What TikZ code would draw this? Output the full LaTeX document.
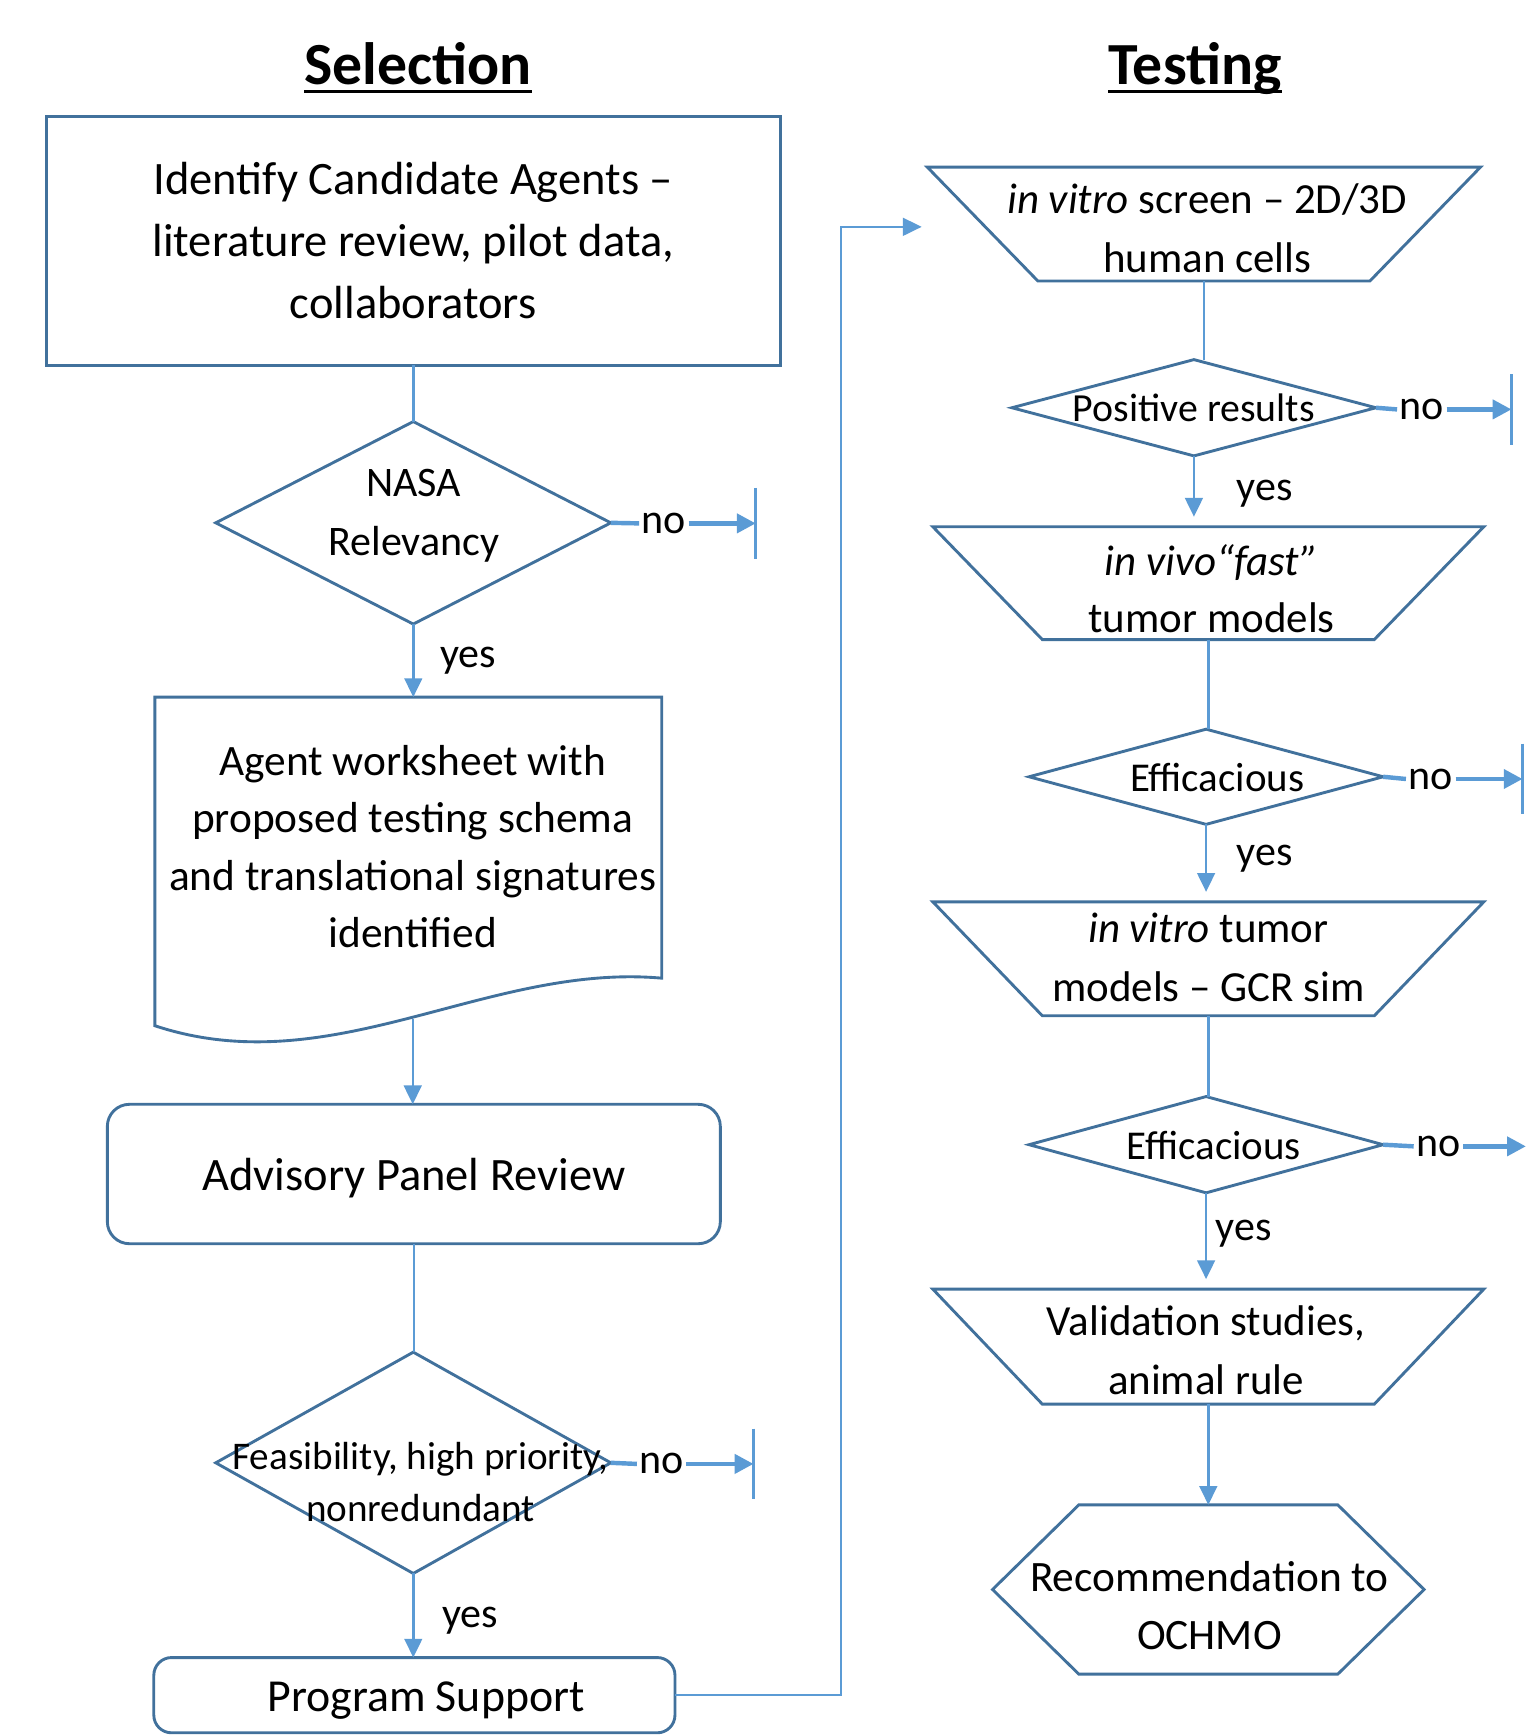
\documentclass[tikz,border=0pt]{standalone}
\usepackage{fontspec}
\setmainfont{Carlito}
\usetikzlibrary{arrows.meta}
\definecolor{shapeblue}{HTML}{41719C}
\definecolor{lineblue}{HTML}{5B9BD5}
\begin{document}
\begin{tikzpicture}[x=0.5pt,y=-0.5pt,
  shp/.style={draw=shapeblue, line width=1.3pt, line join=miter},
  frame/.style={inner sep=0pt, outer sep=0pt},
  txt/.style={inner sep=0pt, align=center, text=black},
  conn/.style={draw=lineblue, line width=1.1pt},
  arr/.style={conn, -{Triangle[length=8.5pt,width=8pt]}},
  noline/.style={draw=lineblue, line width=2pt},
  noarr/.style={draw=lineblue, line width=2pt, -{Triangle[length=8.5pt,width=8.5pt]}},
  barline/.style={draw=lineblue, line width=1.5pt},
  lbl/.style={inner sep=1pt, font=\fontsize{19}{23}\selectfont},
  ttl/.style={inner sep=0pt, font=\fontsize{27}{32}\selectfont\bfseries},
]
\clip (0,0) rectangle (1379,1568);
\fill[white] (0,0) rectangle (1379,1568);

% ---------- titles
\node[ttl, anchor=base] (selT) at (378,76) {Selection};
\draw[line width=1.5pt] ([yshift=-3.5pt]selT.base west) -- ([yshift=-3.5pt]selT.base east);
\node[ttl, anchor=base] (tstT) at (1080,76) {Testing};
\draw[line width=1.5pt] ([yshift=-3.5pt]tstT.base west) -- ([yshift=-3.5pt]tstT.base east);

% ---------- left column
\node[shp, frame, minimum width=331.5pt, minimum height=112.5pt, txt, font=\fontsize{21}{28}\selectfont]
  (ident) at (373.5,217.5) {Identify Candidate Agents –\\literature review, pilot data,\\collaborators};

\node[frame, minimum width=178.5pt, minimum height=91.5pt] (nasa) at (373.5,472.5) {};
\draw[shp] (nasa.north) -- (nasa.east) -- (nasa.south) -- (nasa.west) -- cycle;
\node[txt, font=\fontsize{19}{26.5}\selectfont] (nasaT) at (374,466) {NASA\\Relevancy};

\node[frame, minimum width=229pt, minimum height=135pt] (doc) at (369,765) {};
\draw[shp] (doc.north west) -- (doc.north east) -- (598,884)
  .. controls (440,870) and (300,980) .. (140,927) -- cycle;
\node[txt, font=\fontsize{19.6}{26}\selectfont] (docT) at (373,765)
  {Agent worksheet with\\proposed testing schema\\and translational signatures\\identified};
\coordinate (docB) at (373,921);

\node[shp, frame, rounded corners=10pt, minimum width=277pt, minimum height=63pt] (adv) at (374,1061) {};
\node[txt, font=\fontsize{21}{26}\selectfont] (advT) at (374,1065) {Advisory Panel Review};

\node[frame, minimum width=178.5pt, minimum height=100pt] (feas) at (373.5,1322) {};
\draw[shp] (feas.north) -- (feas.east) -- (feas.south) -- (feas.west) -- cycle;
\node[txt, font=\fontsize{17.7}{23.5}\selectfont] (feasT) at (380,1339) {Feasibility, high priority,\\nonredundant};

\node[shp, frame, rounded corners=8pt, minimum width=235.5pt, minimum height=34pt] (prog) at (374.5,1532) {};
\node[txt, font=\fontsize{20.7}{25}\selectfont] (progT) at (385,1537) {Program Support};

% left connectors
\draw[conn] (ident.south) -- (nasa.north);
\draw[arr] (nasa.south) -- (nasa.south |- doc.north);
\node[lbl] (y1) at (423,597) {yes};
\node[lbl] (n1) at (600,473) {no};
\coordinate (b1) at (683,473);
\draw[noline] (nasa.east) -- (n1.west);
\draw[noarr] (n1.east) -- (b1);
\draw[barline] ([yshift=16pt]b1) -- ([yshift=-16pt]b1);

\draw[arr] (docB) -- (docB |- adv.north);
\draw[conn] (adv.south) -- (adv.south |- feas.north);

\node[lbl] (n2) at (598,1323) {no};
\coordinate (b2) at (681,1323);
\draw[noline] (feas.east) -- (n2.west);
\draw[noarr] (n2.east) -- (b2);
\draw[barline] ([yshift=16pt]b2) -- ([yshift=-16pt]b2);
\draw[arr] (feas.south) -- (feas.south |- prog.north);
\node[lbl] (y2) at (425,1465) {yes};

\coordinate (turnB) at (760,1532);
\coordinate (turnT) at (760,205);
\coordinate (inT) at (833,205);
\draw[arr] (prog.east) -- (turnB) -- (turnT) -- (inT);

% ---------- right column
\node[frame, minimum width=250pt, minimum height=51.5pt] (t1) at (1088,202.5) {};
\draw[shp] (t1.north west) -- (t1.north east) -- ([xshift=-50pt]t1.south east) -- ([xshift=50pt]t1.south west) -- cycle;
\node[txt, font=\fontsize{19.4}{26.5}\selectfont] (t1T) at (1091,206) {\textit{in vitro} screen – 2D/3D\\human cells};

\node[frame, minimum width=164.5pt, minimum height=43.5pt] (pos) at (1079,368.5) {};
\draw[shp] (pos.north) -- (pos.east) -- (pos.south) -- (pos.west) -- cycle;
\node[txt, font=\fontsize{18}{22}\selectfont] (posT) at (1079,369) {Positive results};

\node[frame, minimum width=249pt, minimum height=51pt] (t2) at (1092,527) {};
\draw[shp] (t2.north west) -- (t2.north east) -- ([xshift=-49.5pt]t2.south east) -- ([xshift=49.5pt]t2.south west) -- cycle;
\node[txt, font=\fontsize{19.4}{26}\selectfont] (t2T) at (1095,532) {\textit{in vivo“fast”}\\tumor models};

\node[frame, minimum width=160pt, minimum height=43pt] (eff1) at (1090,702) {};
\draw[shp] (eff1.north) -- (eff1.east) -- (eff1.south) -- (eff1.west) -- cycle;
\node[txt, font=\fontsize{18.5}{22}\selectfont] (eff1T) at (1100,703) {Efficacious};

\node[frame, minimum width=249pt, minimum height=51.5pt] (t3) at (1092,866.5) {};
\draw[shp] (t3.north west) -- (t3.north east) -- ([xshift=-49.5pt]t3.south east) -- ([xshift=49.5pt]t3.south west) -- cycle;
\node[txt, font=\fontsize{19.4}{26.5}\selectfont] (t3T) at (1092,865.5) {\textit{in vitro} tumor\\models – GCR sim};

\node[frame, minimum width=160pt, minimum height=43.5pt] (eff2) at (1090,1034.5) {};
\draw[shp] (eff2.north) -- (eff2.east) -- (eff2.south) -- (eff2.west) -- cycle;
\node[txt, font=\fontsize{18.5}{22}\selectfont] (eff2T) at (1097,1035) {Efficacious};

\node[frame, minimum width=249pt, minimum height=52pt] (t4) at (1092,1217) {};
\draw[shp] (t4.north west) -- (t4.north east) -- ([xshift=-49.5pt]t4.south east) -- ([xshift=49.5pt]t4.south west) -- cycle;
\node[txt, font=\fontsize{19.4}{26.5}\selectfont] (t4T) at (1090,1220) {Validation studies,\\animal rule};

\node[frame, minimum width=195pt, minimum height=76.5pt] (hex) at (1092,1436.5) {};
\draw[shp] (hex.west) -- ([xshift=39pt]hex.north west) -- ([xshift=-39pt]hex.north east) -- (hex.east)
  -- ([xshift=-39pt]hex.south east) -- ([xshift=39pt]hex.south west) -- cycle;
\node[txt, font=\fontsize{19.6}{26}\selectfont] (hexT) at (1093,1451) {Recommendation to\\OCHMO};

% right connectors
\draw[conn] (t1.south) -- (t1.south |- pos.north);
\draw[arr, shorten >=4.5pt] (pos.south) -- (pos.south |- t2.north);
\node[lbl] (y3) at (1143,446) {yes};
\node[lbl] (n3) at (1285,370) {no};
\coordinate (b3) at (1366,370);
\draw[noline] (pos.east) -- (n3.west);
\draw[noarr] (n3.east) -- (b3);
\draw[barline] ([yshift=16pt]b3) -- ([yshift=-16pt]b3);

\draw[conn] (t2.south) -- (t2.south |- eff1.north);
\draw[arr, shorten >=4.5pt] (eff1.south) -- (eff1.south |- t3.north);
\node[lbl] (y4) at (1143,776) {yes};
\node[lbl] (n4) at (1293,704) {no};
\coordinate (b4) at (1376,704);
\draw[noline] (eff1.east) -- (n4.west);
\draw[noarr] (n4.east) -- (b4);
\draw[barline] ([yshift=16pt]b4) -- ([yshift=-16pt]b4);

\draw[conn] (t3.south) -- (t3.south |- eff2.north);
\draw[arr, shorten >=4.5pt] (eff2.south) -- (eff2.south |- t4.north);
\node[lbl] (y5) at (1124,1115) {yes};
\node[lbl] (n5) at (1300,1036) {no};
\coordinate (b5) at (1379,1036);
\draw[noline] (eff2.east) -- (n5.west);
\draw[noarr] (n5.east) -- (b5);

\draw[arr] (t4.south) -- (hex.north);
\end{tikzpicture}
\end{document}
